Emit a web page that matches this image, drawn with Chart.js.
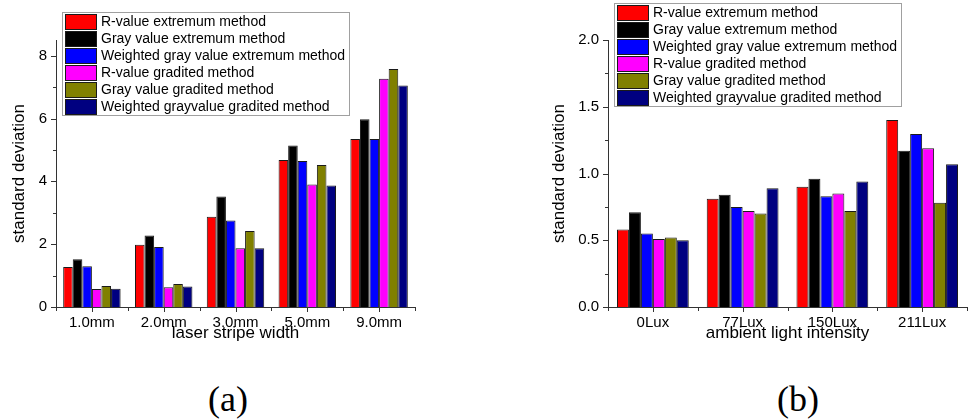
<!DOCTYPE html>
<html>
<head>
<meta charset="utf-8">
<title>standard deviation charts</title>
<script src="https://cdn.jsdelivr.net/npm/chart.js@4.4.1/dist/chart.umd.min.js"></script>
<style>
  body { margin: 0; background: #fff; width: 970px; height: 419px; position: relative; overflow: hidden; }
  canvas { position: absolute; top: 0; }
  #chartA { left: 0; }
  #chartB { left: 540px; }
  .caption { position: absolute; top: 381px; line-height: 1; font-family: 'Liberation Serif', 'Times New Roman', serif; font-size: 36px; color: #000; transform: translateX(-50%); }
</style>
</head>
<body>
<canvas id="chartA" width="425" height="345"></canvas>
<canvas id="chartB" width="430" height="345"></canvas>
<div class="caption" style="left:228px">(a)</div>
<div class="caption" style="left:798px">(b)</div>
<script>
// series shared by both panels
const seriesLabels = [
  "R-value extremum method",
  "Gray value extremum method",
  "Weighted gray value extremum method",
  "R-value gradited method",
  "Gray value gradited method",
  "Weighted grayvalue gradited method",
];
const seriesColors = ["#ff0000", "#000000", "#0000ff", "#ff00ff", "#808000", "#000080"];

// (a) laser stripe width
const widthLabels = ["1.0mm", "2.0mm", "3.0mm", "5.0mm", "9.0mm"];
const rExtA = [1.27, 1.98, 2.87, 4.68, 5.35];
const grayExtA = [1.52, 2.28, 3.52, 5.14, 5.98];
const wGrayExtA = [1.3, 1.91, 2.75, 4.65, 5.35];
const rGradA = [0.57, 0.63, 1.87, 3.9, 7.27];
const grayGradA = [0.67, 0.73, 2.42, 4.52, 7.58];
const wGrayGradA = [0.58, 0.65, 1.87, 3.87, 7.05];

// (b) ambient light intensity
const luxLabels = ["0Lux", "77Lux", "150Lux", "211Lux"];
const rExtB = [0.58, 0.81, 0.9, 1.4];
const grayExtB = [0.71, 0.84, 0.96, 1.17];
const wGrayExtB = [0.55, 0.75, 0.83, 1.295];
const rGradB = [0.51, 0.72, 0.85, 1.19];
const grayGradB = [0.52, 0.7, 0.72, 0.78];
const wGrayGradB = [0.5, 0.89, 0.94, 1.07];

Chart.defaults.font.family = "'Liberation Sans', Arial, sans-serif";
Chart.defaults.color = "#000";

function makeDatasets(series) {
  return series.map((data, i) => ({
    label: seriesLabels[i],
    data: data,
    backgroundColor: seriesColors[i],
    borderColor: "#1a1a1a",
    borderWidth: 1,
    categoryPercentage: 0.8,
    barPercentage: 1.0,
  }));
}

// Origin-style outward ticks, minor ticks shorter
const axisTicks = {
  id: "axisTicks",
  afterDraw(chart, args, opts) {
    const { ctx, scales: { x, y } } = chart;
    ctx.save();
    ctx.strokeStyle = "#333";
    ctx.lineWidth = 1;
    ctx.beginPath();
    const nSteps = Math.floor(y.max / opts.minorStep + 1e-6);
    for (let k = 0; k <= nSteps; k++) {
      const v = k * opts.minorStep;
      const py = Math.round(y.getPixelForValue(v)) + 0.5;
      const len = k % opts.minorPerMajor === 0 ? 5 : 3;
      ctx.moveTo(y.right - len, py);
      ctx.lineTo(y.right, py);
    }
    const n = chart.data.labels.length;
    const half = (x.getPixelForValue(1) - x.getPixelForValue(0)) / 2;
    for (let i = 0; i < n; i++) {
      const px = Math.round(x.getPixelForValue(i)) + 0.5;
      ctx.moveTo(px, x.top);
      ctx.lineTo(px, x.top + 5);
    }
    for (let i = 0; i <= n; i++) {
      const px = Math.round(x.getPixelForValue(0) - half + i * 2 * half) + 0.5;
      ctx.moveTo(px, x.top);
      ctx.lineTo(px, x.top + 4);
    }
    ctx.stroke();
    ctx.restore();
  },
};

// boxed legend placed inside the figure
const boxLegend = {
  id: "boxLegend",
  afterDraw(chart, args, opts) {
    const ctx = chart.ctx;
    const rowH = 17, swW = 31, swH = 15, pad = 3;
    ctx.save();
    ctx.font = "14px 'Liberation Sans', Arial, sans-serif";
    let maxW = 0;
    chart.data.datasets.forEach((ds) => { maxW = Math.max(maxW, ctx.measureText(ds.label).width); });
    const w = Math.round(pad + swW + 5 + maxW + 4);
    const h = chart.data.datasets.length * rowH + 1;
    ctx.fillStyle = "#fff";
    ctx.fillRect(opts.left, opts.top, w, h);
    ctx.strokeStyle = "#a0a0a0";
    ctx.lineWidth = 1;
    ctx.strokeRect(opts.left + 0.5, opts.top + 0.5, w, h);
    chart.data.datasets.forEach((ds, i) => {
      const sy = opts.top + 2 + i * rowH;
      ctx.fillStyle = ds.backgroundColor;
      ctx.fillRect(opts.left + pad + 0.5, sy + 0.5, swW, swH);
      ctx.strokeStyle = "#1a1a1a";
      ctx.strokeRect(opts.left + pad + 0.5, sy + 0.5, swW, swH);
      ctx.fillStyle = "#000";
      ctx.textBaseline = "middle";
      ctx.textAlign = "left";
      ctx.fillText(ds.label, opts.left + pad + swW + 5, sy + swH / 2 + 1);
    });
    ctx.restore();
  },
};

function panelOptions(p) {
  return {
    responsive: false,
    animation: false,
    layout: { padding: { top: 40, right: p.right, left: 0, bottom: 0 } },
    plugins: {
      legend: { display: false },
      tooltip: { enabled: false },
      axisTicks: { minorStep: p.minorStep, minorPerMajor: 2 },
      boxLegend: { left: p.legendLeft, top: p.legendTop },
    },
    scales: {
      x: {
        offset: true,
        grid: { display: false, tickLength: 5 },
        border: { display: true, color: "#333", width: 1 },
        ticks: { font: { size: 15 }, padding: 2, maxRotation: 0 },
        title: { display: true, text: p.xTitle, font: { size: 17 }, padding: { top: 0, bottom: 1 } },
        afterFit: (s) => { s.height = 38; },
      },
      y: {
        min: 0,
        max: p.yMax,
        grid: { display: false, tickLength: 5 },
        border: { display: true, color: "#333", width: 1 },
        ticks: { stepSize: p.yStep, includeBounds: false, font: { size: 15 }, padding: 4, callback: p.yFormat },
        title: { display: true, text: "standard deviation", font: { size: 17 }, padding: { top: 9, bottom: 0 } },
        afterFit: (s) => { s.width = p.yWidth; },
      },
    },
  };
}

new Chart(document.getElementById("chartA"), {
  type: "bar",
  data: { labels: widthLabels, datasets: makeDatasets([rExtA, grayExtA, wGrayExtA, rGradA, grayGradA, wGrayGradA]) },
  options: panelOptions({
    right: 10, yMax: 8.5, yStep: 2, minorStep: 1, yWidth: 56,
    yFormat: (v) => v, xTitle: "laser stripe width", legendLeft: 62, legendTop: 12,
  }),
  plugins: [axisTicks, boxLegend],
});

new Chart(document.getElementById("chartB"), {
  type: "bar",
  data: { labels: luxLabels, datasets: makeDatasets([rExtB, grayExtB, wGrayExtB, rGradB, grayGradB, wGrayGradB]) },
  options: panelOptions({
    right: 3, yMax: 2.0, yStep: 0.5, minorStep: 0.25, yWidth: 68,
    yFormat: (v) => v.toFixed(1), xTitle: "ambient light intensity", legendLeft: 74, legendTop: 3,
  }),
  plugins: [axisTicks, boxLegend],
});
</script>
</body>
</html>
